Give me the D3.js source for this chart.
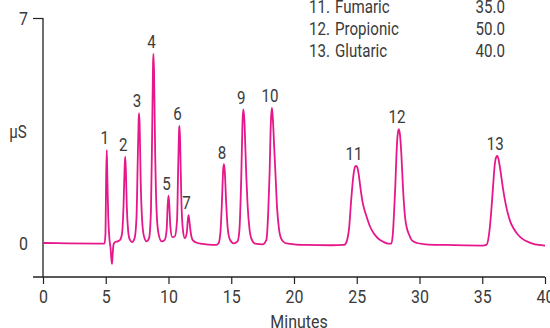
<!DOCTYPE html>
<html>
<head>
<meta charset="utf-8">
<script src="https://cdn.jsdelivr.net/npm/d3@7/dist/d3.min.js"></script>
<style>
body { margin: 0; background: #fff; }
svg text { font-family: "Liberation Sans Narrow", "Roboto", sans-serif; fill: #3a3a3a; }
</style>
</head>
<body>
<div id="vizArea"></div>
<script>

var w = 550
var h = 328
var sx = 0.84 // horizontal squeeze, the original uses a condensed face

// DATA ********************************
// chromatogram trace: [minutes, uS]
var trace = [
  [0, 0.0], [2, -0.01], [4.9, -0.02], [4.98, 0.3], [5.03, 2.0], [5.08, 2.89], [5.13, 2.0],
  [5.2, 0.8], [5.3, 0.1], [5.38, -0.15], [5.45, -0.5], [5.5, -0.65], [5.55, -0.35],
  [5.62, -0.05], [5.75, 0.03], [5.95, 0.05], [6.15, 0.1], [6.3, 0.3], [6.42, 1.2],
  [6.5, 2.3], [6.55, 2.69], [6.6, 2.3], [6.68, 1.1], [6.78, 0.4], [6.9, 0.12], [7.1, 0.03],
  [7.3, 0.15], [7.45, 0.8], [7.55, 2.6], [7.62, 3.8], [7.65, 4.04], [7.7, 3.7], [7.78, 2.0],
  [7.9, 0.7], [8.05, 0.2], [8.25, 0.05], [8.45, 0.15], [8.6, 1.0], [8.7, 3.5], [8.77, 5.6],
  [8.8, 5.88], [8.85, 5.3], [8.93, 3.0], [9.05, 1.0], [9.2, 0.3], [9.45, 0.05], [9.7, 0.1],
  [9.85, 0.4], [9.94, 1.2], [10.0, 1.47], [10.06, 1.2], [10.15, 0.5], [10.3, 0.18],
  [10.5, 0.2], [10.68, 0.7], [10.78, 2.5], [10.85, 3.55], [10.88, 3.64], [10.93, 3.1],
  [11.02, 1.4], [11.15, 0.4], [11.3, 0.15], [11.45, 0.3], [11.55, 0.75], [11.6, 0.87],
  [11.66, 0.7], [11.78, 0.3], [11.95, 0.08], [12.3, 0.0], [13.0, -0.04], [13.8, -0.06],
  [14.0, 0.0], [14.15, 0.4], [14.26, 1.3], [14.36, 2.3], [14.42, 2.45], [14.48, 2.25],
  [14.6, 1.22], [14.72, 0.45], [14.9, 0.1], [15.2, -0.01], [15.5, 0.05], [15.65, 0.4],
  [15.8, 2.08], [15.9, 3.8], [15.96, 4.16], [16.05, 3.8], [16.13, 2.9], [16.2, 2.08],
  [16.3, 1.2], [16.45, 0.45], [16.62, 0.12], [16.9, -0.02], [17.5, -0.04], [17.8, 0.1],
  [17.95, 1.0], [18.05, 2.1], [18.16, 3.8], [18.24, 4.2], [18.31, 3.9], [18.42, 3.0],
  [18.53, 2.1], [18.65, 1.1], [18.8, 0.45], [19.0, 0.12], [19.3, 0.0], [20, -0.04],
  [21, -0.06], [23, -0.07], [24.0, -0.06], [24.2, 0.05], [24.4, 0.5], [24.55, 1.3],
  [24.75, 2.15], [24.88, 2.38], [24.95, 2.4], [25.05, 2.35], [25.15, 2.15], [25.3, 1.7],
  [25.45, 1.3], [25.6, 1.05], [25.8, 0.8], [26.05, 0.52], [26.35, 0.3], [26.7, 0.14],
  [27.1, 0.04], [27.5, -0.02], [27.75, -0.02], [27.88, 0.3], [27.98, 1.0], [28.07, 1.75],
  [28.17, 2.8], [28.27, 3.4], [28.36, 3.54], [28.45, 3.35], [28.55, 2.8], [28.68, 1.75],
  [28.85, 0.8], [29.0, 0.45], [29.15, 0.28], [29.4, 0.08], [29.8, 0.0], [30.5, -0.04],
  [32, -0.06], [35, -0.08], [35.35, -0.05], [35.55, 0.3], [35.7, 0.9], [35.85, 1.7],
  [36.0, 2.45], [36.12, 2.68], [36.2, 2.71], [36.3, 2.6], [36.45, 2.25], [36.65, 1.7],
  [36.85, 1.25], [37.05, 0.9], [37.25, 0.65], [37.5, 0.45], [37.8, 0.28], [38.1, 0.16],
  [38.5, 0.06], [39.0, -0.02], [39.5, -0.06], [40.0, -0.08]
];

// peak numbers and where their apex sits
var peakIds = ["1", "2", "3", "4", "5", "6", "7", "8", "9", "10", "11", "12", "13"];
var peakTimes = [5.08, 6.55, 7.65, 8.8, 10.0, 10.88, 11.6, 14.42, 15.96, 18.24, 24.95, 28.36, 36.2];
var peakHeights = [2.89, 2.69, 4.04, 5.88, 1.47, 3.64, 0.87, 2.45, 4.16, 4.2, 2.4, 3.54, 2.71];

// legend rows (visible part)
var legendNums = ["11.", "12.", "13."];
var legendNames = ["Fumaric", "Propionic", "Glutaric"];
var legendConc = ["35.0", "50.0", "40.0"];

var xTicks = [0, 5, 10, 15, 20, 25, 30, 35, 40];
var yTicks = [0, 7];

// squeeze text horizontally, keeping its anchor x where it was
function squeeze(sel){
    sel.each(function(){
        var t = d3.select(this);
        var px = +t.attr("x") || 0;
        t.attr("x", px / sx).attr("transform", "scale(" + sx + ",1)");
    });
}

// SET-UP ********************************
var svg = d3.select("#vizArea").append("svg")
    .attr("width", w)
    .attr("height", h);

var x = d3.scaleLinear().domain([0, 40]).range([43, 545]);
var y = d3.scaleLinear().domain([-1.058, 7]).range([277, 18]);

// x axis
var xAxis = svg.append("g")
    .attr("transform", "translate(0," + y(-1.058) + ")")
    .call(d3.axisBottom(x).tickValues(xTicks).tickSize(7).tickSizeOuter(0).tickPadding(6));
xAxis.select(".domain").remove();
xAxis.append("line")
    .attr("x1", x(0) - 10).attr("x2", x(40))
    .attr("stroke", "#222").attr("stroke-width", 1.3);
xAxis.selectAll(".tick line").attr("stroke", "#222").attr("stroke-width", 1.2);
xAxis.selectAll(".tick text").attr("font-size", 19).attr("fill", "#3a3a3a").call(squeeze);

// y axis
var yAxis = svg.append("g")
    .attr("transform", "translate(" + x(0) + ",0)")
    .call(d3.axisLeft(y).tickValues(yTicks).tickSize(10).tickSizeOuter(0));
yAxis.select(".domain").attr("stroke", "#222").attr("stroke-width", 1.3)
    .attr("d", "M0," + y(7) + "V" + y(-1.058));
yAxis.selectAll(".tick line")
    .attr("stroke", "#222").attr("stroke-width", 1.2)
    .attr("x2", function(d){ return d === 0 ? 0 : -10; });
yAxis.selectAll(".tick text")
    .attr("x", -15).attr("font-size", 19).attr("fill", "#3a3a3a").call(squeeze);

// axis titles
svg.append("text")
    .attr("x", 18).attr("y", y(3.45))
    .attr("text-anchor", "middle").attr("dy", "0.35em")
    .attr("font-size", 18)
    .text("µS")
    .call(squeeze);

svg.append("text")
    .attr("x", (x(0) + x(40)) / 2 + 5).attr("y", 328)
    .attr("text-anchor", "middle")
    .attr("font-size", 19)
    .text("Minutes")
    .call(squeeze);

// trace
var line = d3.line()
    .x(function(d){ return x(d[0]); })
    .y(function(d){ return y(d[1]); })
    .curve(d3.curveMonotoneX);

svg.append("path")
    .datum(trace)
    .attr("d", line)
    .attr("fill", "none")
    .attr("stroke", "#e5178a")
    .attr("stroke-width", 1.8)
    .attr("stroke-linejoin", "round");

// peak numbers
svg.append("g").selectAll("text")
    .data(peakIds)
    .enter()
    .append("text")
    .attr("x", function(d, i){ return x(peakTimes[i]) - 2; })
    .attr("y", function(d, i){ return y(peakHeights[i]) - 12; })
    .attr("dy", "0.35em")
    .attr("text-anchor", "middle")
    .attr("font-size", 18)
    .text(function(d){ return d; })
    .call(squeeze);

// legend
var legend = svg.append("g").selectAll("g")
    .data(legendNames)
    .enter()
    .append("g")
    .attr("transform", function(d, i){ return "translate(0," + (13 + i * 22) + ")"; });

legend.append("text").attr("x", 309).attr("font-size", 18)
    .text(function(d, i){ return legendNums[i]; })
    .call(squeeze);
legend.append("text").attr("x", 335).attr("font-size", 18)
    .text(function(d){ return d; })
    .call(squeeze);
legend.append("text").attr("x", 505).attr("text-anchor", "end").attr("font-size", 18)
    .text(function(d, i){ return legendConc[i]; })
    .call(squeeze);

</script>
</body>
</html>
